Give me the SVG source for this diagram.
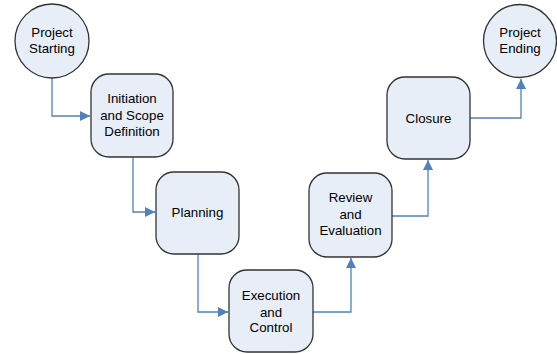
<svg xmlns="http://www.w3.org/2000/svg" width="557" height="354" viewBox="0 0 557 354">
<style>
.n{fill:#E8EEF8;stroke:#333;stroke-width:1.3}
.t{font-family:"Liberation Sans",Arial,sans-serif;font-size:13.3px;fill:#000;text-anchor:middle}
.c{fill:none;stroke:#4F81BD;stroke-width:1.3}
</style>
<defs>
<marker id="a" viewBox="0 0 10 10" refX="10" refY="5" markerWidth="14" markerHeight="10" markerUnits="userSpaceOnUse" orient="auto">
<path d="M0,0L10,5L0,10z" fill="#4F81BD"/>
</marker>
</defs>
<rect width="557" height="354" fill="#fff"/>
<g id="connectors">
<path class="c" d="M52,78V116H90" marker-end="url(#a)"/>
<path class="c" d="M133,157V212H155" marker-end="url(#a)"/>
<path class="c" d="M198,254V312H228" marker-end="url(#a)"/>
<path class="c" d="M313,312H351V258" marker-end="url(#a)"/>
<path class="c" d="M392,216H428V160" marker-end="url(#a)"/>
<path class="c" d="M470,118H521V79" marker-end="url(#a)"/>
</g>
<g id="start">
<circle class="n" cx="52" cy="41" r="37"/>
<text class="t" x="52" y="36.5">Project</text>
<text class="t" x="52" y="52.5">Starting</text>
</g>
<g id="initiation">
<rect class="n" x="91" y="74" width="82" height="83" rx="18"/>
<text class="t" x="132" y="103">Initiation</text>
<text class="t" x="132" y="119.5">and Scope</text>
<text class="t" x="132" y="135.5">Definition</text>
</g>
<g id="planning">
<rect class="n" x="156" y="172" width="83" height="82" rx="18"/>
<text class="t" x="197.5" y="216.5">Planning</text>
</g>
<g id="execution">
<rect class="n" x="229" y="270" width="84" height="82" rx="18"/>
<text class="t" x="271" y="299.5">Execution</text>
<text class="t" x="271" y="316.5">and</text>
<text class="t" x="271" y="331.5">Control</text>
</g>
<g id="review">
<rect class="n" x="309" y="173" width="83" height="84" rx="18"/>
<text class="t" x="350.5" y="201.5">Review</text>
<text class="t" x="350.5" y="218.5">and</text>
<text class="t" x="350.5" y="234.5">Evaluation</text>
</g>
<g id="closure">
<rect class="n" x="387" y="77" width="83" height="82" rx="18"/>
<text class="t" x="428.5" y="122.5">Closure</text>
</g>
<g id="ending">
<circle class="n" cx="520" cy="41" r="36.5"/>
<text class="t" x="520" y="36.5">Project</text>
<text class="t" x="520" y="52.5">Ending</text>
</g>
</svg>
